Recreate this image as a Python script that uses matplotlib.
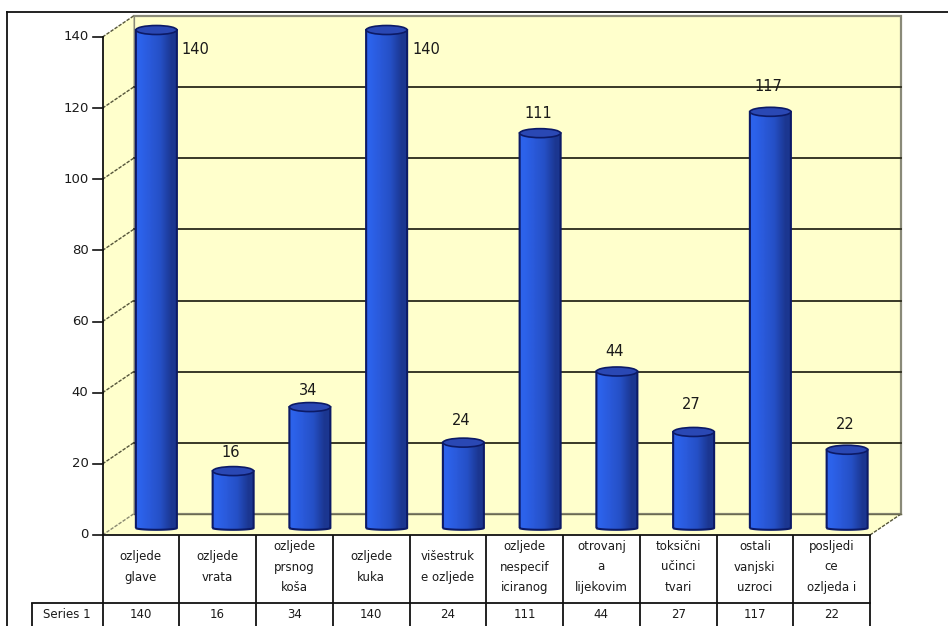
import numpy as np
import matplotlib
matplotlib.use('Agg')
import matplotlib.pyplot as plt
from matplotlib.patches import Ellipse, PathPatch, Polygon
from matplotlib.path import Path

categories = ['ozljede\nglave', 'ozljede\nvrata', 'ozljede\nprsnog\nkoša', 'ozljede\nkuka',
              'višestruk\ne ozljede', 'ozljede\nnespecif\niciranog', 'otrovanj\na\nlijekovim',
              'toksični\nučinci\ntvari', 'ostali\nvanjski\nuzroci', 'posljedi\nce\nozljeda i']
values = [140, 16, 34, 140, 24, 111, 44, 27, 117, 22]
series_name = 'Series 1'
yticks = [0, 20, 40, 60, 80, 100, 120, 140]
# gap between bar top and its label, in pixels
label_gaps = [0, 19, 17, 0, 22, 20, 20, 27, 25, 25]

W, H = 948, 626
# pixel box of the front plane
left, right, top, bottom = 102.5, 870, 37, 535
px_x = (right - left) / 10
px_y = (bottom - top) / 140
depth_x = 31 / px_x
depth_y = 21 / px_y
bar_dx = 15.5 / px_x
bar_dy = 7 / px_y
bar_w = 41 / px_x
ell_h = 9 / px_y

plt.rcParams['font.family'] = 'DejaVu Sans'
fig = plt.figure(figsize=(W / 100, H / 100), dpi=100)
ax = fig.add_axes([left / W, 1 - bottom / H, (right - left) / W, (bottom - top) / H])
ax.set_xlim(-0.5, 9.5)
ax.set_ylim(0, 140)
ax.axis('off')

wall = '#FFFFCC'
ink = '#1a1a1a'
x0, x1 = -0.5, 9.5
ax.add_patch(Polygon([(x0 + depth_x, depth_y), (x1 + depth_x, depth_y),
                      (x1 + depth_x, 140 + depth_y), (x0 + depth_x, 140 + depth_y)],
                     fc=wall, ec='#8a8a78', lw=1.6, clip_on=False, zorder=1))
ax.add_patch(Polygon([(x0, 0), (x0 + depth_x, depth_y), (x0 + depth_x, 140 + depth_y), (x0, 140)],
                     fc=wall, ec='none', clip_on=False, zorder=1))
ax.add_patch(Polygon([(x0, 0), (x1, 0), (x1 + depth_x, depth_y), (x0 + depth_x, depth_y)],
                     fc=wall, ec='none', clip_on=False, zorder=1))

# gridlines, back wall and side wall
for t in yticks:
    if t > 0 and t < 140:
        ax.plot([x0 + depth_x, x1 + depth_x], [t + depth_y, t + depth_y], color='#2a2a1a', lw=1.3,
                clip_on=False, zorder=2)
    ax.plot([x0, x0 + depth_x], [t, t + depth_y], color='#55553a' if t else '#8a8a70', lw=1.0,
            ls=(0, (2.5, 1)), clip_on=False, zorder=2)
    ax.plot([x0 - 10 / px_x, x0], [t, t], color='#111111', lw=1.2, clip_on=False, zorder=3)
    ax.text(x0 - 14 / px_x, t, str(t), ha='right', va='center', fontsize=9.5, color=ink)
ax.plot([x1, x1 + depth_x], [0, depth_y], color='#55553a', lw=1.0, ls=(0, (2.5, 1)),
        clip_on=False, zorder=2)
ax.plot([x0, x0], [0, 140], color='#111111', lw=1.3, clip_on=False, zorder=3)
ax.plot([x0 + depth_x, x1 + depth_x], [depth_y, depth_y], color='#6a6a50', lw=1.0, clip_on=False, zorder=2)

# cylinders
grad = np.array([[0.0, 0.4, 0.7, 1.0]])
cmap = matplotlib.colors.LinearSegmentedColormap.from_list('cyl', ['#2C62EA', '#2A5ADB', '#2550C6', '#1B3690'])
ang = np.linspace(np.pi, 2 * np.pi, 30)
for i, v in enumerate(values):
    c = i + bar_dx
    y0 = bar_dy
    y1 = v + bar_dy
    xs = c + bar_w / 2 * np.cos(ang)
    ys = y0 + ell_h / 2 * np.sin(ang) * 0.4
    verts = list(zip(xs, ys)) + [(c + bar_w / 2, y1), (c - bar_w / 2, y1), (c - bar_w / 2, y0)]
    patch = PathPatch(Path(verts), fc='none', ec='#0c1a66', lw=1.5, clip_on=False, zorder=5)
    ax.add_patch(patch)
    im = ax.imshow(grad, extent=(c - bar_w / 2, c + bar_w / 2, y0 - ell_h / 2, y1), aspect='auto',
                   cmap=cmap, vmin=0, vmax=1, zorder=4, interpolation='bilinear')
    im.set_clip_box(fig.bbox)
    im.set_clip_path(patch)
    ax.add_patch(Ellipse((c, y1), bar_w, ell_h, fc='#2A48B4', ec='#0c1a66', lw=1.2, clip_on=False, zorder=6))
ax.set_xlim(-0.5, 9.5)
ax.set_ylim(0, 140)

# value labels
for i, v in enumerate(values):
    c = i + bar_dx
    if v == 140:
        ax.text(c + bar_w / 2 + 5 / px_x, 136.5, str(v), ha='left', va='center', fontsize=10.5, color=ink, zorder=7)
    else:
        ax.text(c - 2 / px_x, v + bar_dy + label_gaps[i] / px_y, str(v), ha='center', va='center',
                fontsize=10.5, color=ink, zorder=7)

# data table under the axis
row1 = 68 / px_y
row2 = 30 / px_y
edges = np.arange(11) - 0.5
ax.plot([x0 - 71 / px_x, x1], [-row1, -row1], color='#111111', lw=1.3, clip_on=False, zorder=3)
ax.plot([x0, x1], [0, 0], color='#111111', lw=1.3, clip_on=False, zorder=3)
ax.vlines(edges, -row1 - row2, 0, color='#111111', lw=1.3, clip_on=False, zorder=3)
ax.vlines(x0 - 71 / px_x, -row1 - row2, -row1, color='#111111', lw=1.3, clip_on=False, zorder=3)
ax.text(x0 - 35.5 / px_x, -row1 - 12 / px_y, series_name, ha='center', va='center', fontsize=8.5, color=ink)
for i, (cat, v) in enumerate(zip(categories, values)):
    ax.text(i, -row1 / 2 + 2 / px_y, cat, ha='center', va='center', fontsize=8.5, color=ink, linespacing=1.75)
    ax.text(i, -row1 - 12 / px_y, str(v), ha='center', va='center', fontsize=8.5, color=ink)

# outer chart frame
fig.add_artist(plt.Line2D([7 / W, 7 / W], [0, 1 - 12 / H], color='#111111', lw=1.3))
fig.add_artist(plt.Line2D([7 / W, 1], [1 - 12 / H, 1 - 12 / H], color='#111111', lw=1.3))

fig.savefig('out.png', dpi=100)
